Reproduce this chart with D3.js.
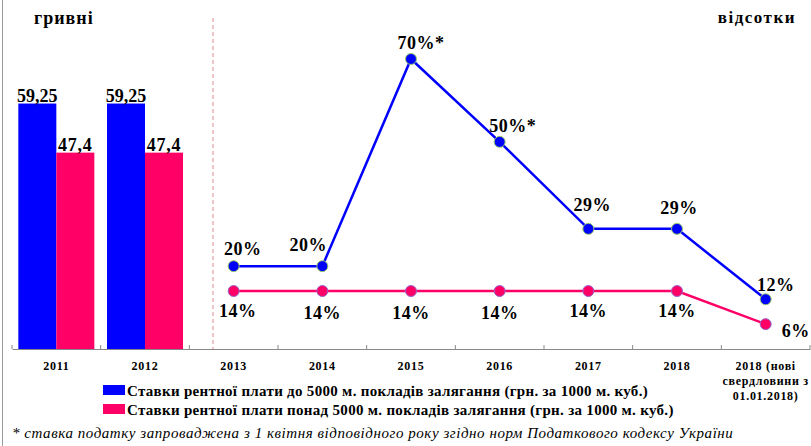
<!DOCTYPE html>
<html>
<head>
<meta charset="utf-8">
<script src="https://cdn.jsdelivr.net/npm/d3@7"></script>
<style>
  body { margin: 0; background: #fff; }
</style>
</head>
<body>
<div id="chart"></div>
<script>
// категорії (роки)
const categories = ["2011", "2012", "2013", "2014", "2015", "2016", "2017", "2018", "2018 (нові свердловини з 01.01.2018)"];
const catLines = [["2011"], ["2012"], ["2013"], ["2014"], ["2015"], ["2016"], ["2017"], ["2018"], ["2018 (нові", "свердловини з", "01.01.2018)"]];

// гривні (стовпчики)
const barYears = ["2011", "2012"];
const barUpTo5000 = [59.25, 59.25];
const barOver5000 = [47.4, 47.4];
const barLabelsUpTo = ["59,25", "59,25"];
const barLabelsOver = ["47,4", "47,4"];

// відсотки (лінії)
const lineYears = ["2013", "2014", "2015", "2016", "2017", "2018", "2018 (нові свердловини з 01.01.2018)"];
const lineUpTo5000 = [20, 20, 70, 50, 29, 29, 12];
const lineOver5000 = [14, 14, 14, 14, 14, 14, 6];
const lineLabelsUpTo = ["20%", "20%", "70%*", "50%*", "29%", "29%", "12%"];
const lineLabelsOver = ["14%", "14%", "14%", "14%", "14%", "14%", "6%"];

const legendNames = [
  "Ставки рентної плати до 5000 м. покладів залягання (грн. за 1000 м. куб.)",
  "Ставки рентної плати понад 5000 м. покладів залягання (грн. за 1000 м. куб.)"
];
const footnote = "*  ставка податку запроваджена з 1 квітня відповідного року згідно норм Податкового кодексу України";

const blue = "#0000ff", pink = "#ff0066";
const width = 811, height = 446;
const serif = "Liberation Serif, DejaVu Serif, serif";

const svg = d3.select("#chart").append("svg")
    .attr("width", width)
    .attr("height", height);

// рамка зліва
svg.append("line")
    .attr("x1", 2.5).attr("x2", 2.5).attr("y1", 0).attr("y2", height)
    .attr("stroke", "#999").attr("stroke-width", 1);

const x = d3.scaleBand().domain(categories).range([12, 810]).padding(0);
const y = d3.scaleLinear().domain([0, 70]).range([349, 59]);

// вісь x
const xAxis = svg.append("g")
    .attr("transform", "translate(0,349)")
    .call(d3.axisBottom(x).tickSize(0).tickFormat(""));
xAxis.select(".domain").attr("stroke", "#888");
xAxis.selectAll(".tk").data(d3.range(categories.length + 1)).enter().append("line")
    .attr("x1", i => 12 + i * x.bandwidth()).attr("x2", i => 12 + i * x.bandwidth())
    .attr("y1", -4).attr("y2", 0)
    .attr("stroke", "#888");

// підписи категорій
const catG = svg.append("g");
categories.forEach((c, i) => {
  const t = catG.append("text")
      .attr("x", x(c) + x.bandwidth() / 2)
      .attr("y", 370)
      .attr("text-anchor", "middle")
      .attr("font-weight", "bold")
      .attr("font-size", 12)
      .attr("letter-spacing", 0.7);
  catLines[i].forEach((l, j) => {
    t.append("tspan").attr("x", x(c) + x.bandwidth() / 2).attr("dy", j === 0 ? 0 : 15).text(l);
  });
});

// розділювач
svg.append("line")
    .attr("x1", 213).attr("x2", 213).attr("y1", 18).attr("y2", 349)
    .attr("stroke", "#e08a8a").attr("stroke-dasharray", "4,3");

// стовпчики
const barW = 38;
const bars = svg.append("g");
barYears.forEach((yr, i) => {
  const cx = x(yr) + x.bandwidth() / 2;
  bars.append("rect")
      .attr("x", cx - barW).attr("y", y(barUpTo5000[i]))
      .attr("width", barW).attr("height", y(0) - y(barUpTo5000[i]))
      .attr("fill", blue);
  bars.append("rect")
      .attr("x", cx).attr("y", y(barOver5000[i]))
      .attr("width", barW).attr("height", y(0) - y(barOver5000[i]))
      .attr("fill", pink);
  bars.append("text")
      .attr("x", cx - barW / 2).attr("y", y(barUpTo5000[i]) - 2)
      .attr("text-anchor", "middle").attr("font-weight", "bold").attr("font-size", 18)
      .text(barLabelsUpTo[i]);
  bars.append("text")
      .attr("x", cx + barW / 2).attr("y", y(barOver5000[i]) - 2)
      .attr("text-anchor", "middle").attr("font-weight", "bold").attr("font-size", 18)
      .attr("letter-spacing", 0.8)
      .text(barLabelsOver[i]);
});

// лінії
const px = d => x(d) + x.bandwidth() / 2;
const lineGen = d3.line().x(d => px(d[0])).y(d => y(d[1]));

const upPts = lineYears.map((d, i) => [d, lineUpTo5000[i]]);
const ovPts = lineYears.map((d, i) => [d, lineOver5000[i]]);

svg.append("path").datum(ovPts).attr("d", lineGen)
    .attr("fill", "none").attr("stroke", pink).attr("stroke-width", 2.5);
svg.append("path").datum(upPts).attr("d", lineGen)
    .attr("fill", "none").attr("stroke", blue).attr("stroke-width", 2.5);

svg.selectAll(".mo").data(ovPts).enter().append("circle")
    .attr("cx", d => px(d[0])).attr("cy", d => y(d[1])).attr("r", 5.5)
    .attr("fill", pink).attr("stroke", "#9966cc").attr("stroke-width", 1);
svg.selectAll(".mu").data(upPts).enter().append("circle")
    .attr("cx", d => px(d[0])).attr("cy", d => y(d[1])).attr("r", 5.5)
    .attr("fill", blue).attr("stroke", "#99cc66").attr("stroke-width", 1);

// зміщення підписів (стиль)
const upOff = [[9, -11], [-14, -15], [10, -10], [13, -10], [4, -18], [2, -15], [10, -8]];
const ovOff = [[4, 26], [0, 28], [0, 28], [0, 28], [0, 26], [0, 26], [30, 13]];

svg.selectAll(".lu").data(upPts).enter().append("text")
    .attr("x", (d, i) => px(d[0]) + upOff[i][0])
    .attr("y", (d, i) => y(d[1]) + upOff[i][1])
    .attr("text-anchor", "middle").attr("font-weight", "bold").attr("font-size", 18)
    .attr("letter-spacing", 0.5)
    .text((d, i) => lineLabelsUpTo[i]);
svg.selectAll(".lo").data(ovPts).enter().append("text")
    .attr("x", (d, i) => px(d[0]) + ovOff[i][0])
    .attr("y", (d, i) => y(d[1]) + ovOff[i][1])
    .attr("text-anchor", "middle").attr("font-weight", "bold").attr("font-size", 18)
    .attr("letter-spacing", 0.5)
    .text((d, i) => lineLabelsOver[i]);

// заголовки осей
svg.append("text").attr("x", 34).attr("y", 24)
    .attr("font-weight", "bold").attr("font-size", 18).attr("letter-spacing", 1)
    .text("гривні");
svg.append("text").attr("x", 796).attr("y", 23).attr("text-anchor", "end")
    .attr("font-weight", "bold").attr("font-size", 17).attr("letter-spacing", 1.5)
    .text("відсотки");

// легенда
const leg = svg.append("g");
[blue, pink].forEach((c, i) => {
  leg.append("rect").attr("x", 103).attr("y", 385 + i * 19).attr("width", 22).attr("height", 10).attr("fill", c);
  leg.append("text").attr("x", 127).attr("y", 396 + i * 19)
      .attr("font-weight", "bold").attr("font-size", 15).attr("letter-spacing", 0.3)
      .text(legendNames[i]);
});

svg.append("text").attr("x", 12).attr("y", 438)
    .attr("font-style", "italic").attr("font-size", 15).attr("letter-spacing", 0.55)
    .text(footnote);

// шрифт для всіх підписів
svg.selectAll("text").style("font-family", serif);
</script>
</body>
</html>
